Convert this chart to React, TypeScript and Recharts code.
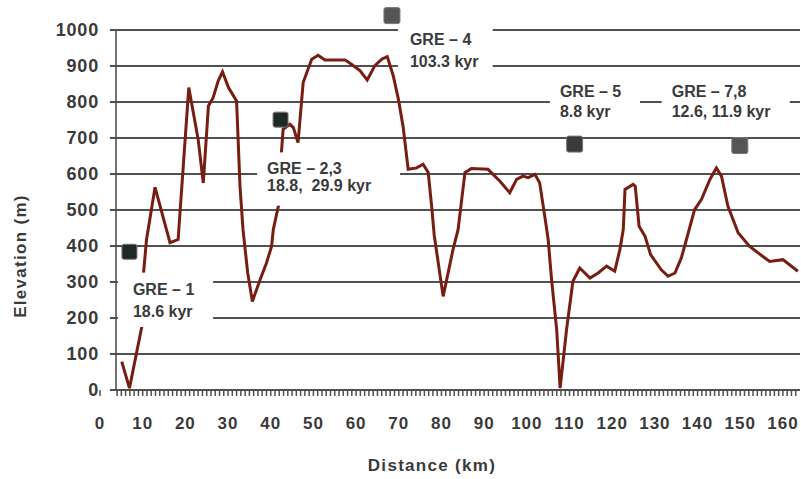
import React from 'react';
import { LineChart, Line, XAxis, YAxis, ReferenceLine, ReferenceArea, ReferenceDot } from 'recharts';

const distKm = [5.1, 6.9, 9.8, 10.2, 10.9, 12.9, 16.4, 18.3, 20.8, 23.0, 24.2, 25.4, 26.5, 27.7, 28.7, 30.1, 32.0, 32.8, 33.5, 34.6, 35.7, 37.5, 39.0, 40.2, 40.6, 41.8, 42.5, 42.9, 44.5, 45.3, 46.4, 47.6, 49.6, 51.1, 52.7, 57.4, 58.9, 60.9, 62.6, 64.4, 66.0, 67.3, 68.7, 69.9, 71.0, 72.2, 74.2, 75.7, 76.9, 77.7, 78.3, 80.4, 82.7, 83.9, 85.5, 87.0, 90.9, 93.7, 96.0, 97.6, 99.1, 100.3, 101.9, 103.0, 104.2, 105.0, 105.8, 107.0, 107.8, 109.3, 110.8, 112.4, 114.8, 116.7, 118.7, 120.6, 121.8, 122.6, 123.0, 124.9, 125.4, 126.3, 127.7, 129.0, 131.5, 133.1, 134.7, 136.2, 137.4, 139.3, 140.9, 142.9, 144.4, 145.6, 147.1, 149.5, 152.2, 155.3, 156.9, 160.0, 163.5];
const elevM = [79, 5, 176, 325, 418, 563, 409, 418, 840, 696, 575, 789, 812, 859, 884, 840, 803, 566, 446, 326, 246, 306, 353, 399, 446, 511, 659, 724, 738, 729, 687, 854, 919, 930, 917, 917, 905, 887, 861, 901, 919, 926, 873, 808, 733, 613, 617, 627, 604, 511, 430, 260, 390, 446, 604, 615, 613, 580, 548, 585, 594, 590, 599, 576, 483, 418, 306, 167, 5, 167, 302, 339, 311, 325, 344, 330, 390, 446, 557, 571, 566, 455, 427, 376, 334, 316, 325, 367, 418, 501, 529, 585, 617, 594, 511, 437, 399, 371, 357, 362, 330];

const yTicks = [0, 100, 200, 300, 400, 500, 600, 700, 800, 900, 1000];
const X_MAX = 164;
const xMinorStart = 4;

// label boxes: [x1, x2, yTop, yBottom] in data units, with two text lines
const labelNames = ['GRE – 1', 'GRE – 2,3', 'GRE – 4', 'GRE – 5', 'GRE – 7,8'];
const labelAges = ['18.6 kyr', '18.8,\u00a0 29.9 kyr', '103.3 kyr', '8.8 kyr', '12.6, 11.9 kyr'];
const labelX1 = [4.2, 36.8, 69.8, 105.4, 131.6];
const labelX2 = [26.5, 70.3, 92.0, 126.5, 161.6];
const labelYTop = [326, 660, 1014, 886, 886];
const labelYBottom = [175, 512, 875, 724, 724];
const labelPadX = [15, 10, 12, 10, 10];
const labelLine1 = [22, 22, 20, 26, 26];
const labelLine2 = [44, 39, 42, 46, 46];

// sample markers
const markerKm = [6.9, 42.3, 68.4, 111.2, 149.9];
const markerElev = [384, 751, 1040, 683, 679];
const markerColor = ['#1e2a28', '#1e2a28', '#555555', '#3a3a3a', '#555555'];
const markerSize = [15, 15, 16, 16, 16];

const data = distKm.map((d, i) => ({ d, e: elevM[i] }));
const xMinorTicks = Array.from({ length: X_MAX - xMinorStart }, (_, i) => i + xMinorStart);

const FONT = 'Liberation Sans, Arial, Helvetica, sans-serif';
const TEXT = '#3a3a3a';
const GRID = '#505050';

const XTick = (props: any) => {
  const { x, y, payload } = props;
  const v = payload.value;
  if (v % 10 !== 0) return <g />;
  return (
    <text x={x} y={y + 33} textAnchor="middle" fill={TEXT} fontSize={17} fontWeight="bold" fontFamily={FONT} letterSpacing={1}>
      {String(v)}
    </text>
  );
};

const XTitle = () => (
  <text x={432} y={471} textAnchor="middle" fill={TEXT} fontSize={17} fontWeight="bold" fontFamily={FONT} letterSpacing={1.3}>
    Distance (km)
  </text>
);

const YTitle = () => (
  <text x={20} y={256} transform="rotate(-90, 20, 256)" textAnchor="middle" dominantBaseline="central" fill={TEXT} fontSize={17} fontWeight="bold" fontFamily={FONT} letterSpacing={1.3}>
    Elevation (m)
  </text>
);

const makeBox = (i: number) => (props: any) => {
  const { x, y, width, height } = props;
  return (
    <g>
      <rect x={x} y={y} width={width} height={height} fill="#ffffff" stroke="none" />
      <text x={x + labelPadX[i]} y={y + labelLine1[i]} fill={TEXT} fontSize={16} fontWeight="bold" fontFamily={FONT}>
        {labelNames[i]}
      </text>
      <text x={x + labelPadX[i]} y={y + labelLine2[i]} fill={TEXT} fontSize={16} fontWeight="bold" fontFamily={FONT}>
        {labelAges[i]}
      </text>
    </g>
  );
};

const makeMarker = (i: number) => (props: any) => {
  const { cx, cy } = props;
  const s = markerSize[i];
  return <rect x={cx - s / 2} y={cy - s / 2} width={s} height={s} rx={2} fill={markerColor[i]} stroke="#777" strokeWidth={1} />;
};

export default function App() {
  return (
    <div style={{ position: 'absolute', left: 0, top: 0, background: '#fff' }}>
      <LineChart width={801} height={479} data={data} margin={{ top: 30, right: 1, bottom: 29, left: 0 }}>
        <XAxis
          dataKey="d"
          type="number"
          domain={[0, X_MAX]}
          ticks={[0, ...xMinorTicks]}
          interval={0}
          axisLine={false}
          tickLine={{ stroke: GRID, strokeWidth: 1.5 }}
          tickSize={6}
          tickMargin={0}
          height={60}
          tick={XTick}
          label={<XTitle />}
        />
        <YAxis
          type="number"
          domain={[0, 1000]}
          ticks={yTicks}
          interval={0}
          width={100}
          axisLine={false}
          tickLine={false}
          tickSize={0}
          tickMargin={1}
          tick={{ fill: TEXT, fontSize: 18, fontWeight: 'bold', fontFamily: FONT, letterSpacing: 0.8 }}
          label={<YTitle />}
        />
        {yTicks.map((v) => (
          <ReferenceLine
            key={'g' + v}
            segment={[{ x: 2.34, y: v }, { x: X_MAX, y: v }]}
            stroke={GRID}
            strokeWidth={v === 0 ? 2.2 : 1.8}
            ifOverflow="visible"
            zIndex={-10}
          />
        ))}
        <ReferenceLine segment={[{ x: 3.75, y: 0 }, { x: 3.75, y: 1000 }]} stroke={GRID} strokeWidth={1.6} ifOverflow="visible" zIndex={-10} />
        <Line dataKey="e" type="linear" stroke="#771d12" strokeWidth={3} dot={false} isAnimationActive={false} />
        {labelNames.map((_, i) => (
          <ReferenceArea
            key={'b' + i}
            x1={labelX1[i]}
            x2={labelX2[i]}
            y1={labelYBottom[i]}
            y2={labelYTop[i]}
            ifOverflow="visible"
            shape={makeBox(i)}
            zIndex={3000}
          />
        ))}
        {markerKm.map((k, i) => (
          <ReferenceDot key={'m' + i} x={k} y={markerElev[i]} ifOverflow="visible" shape={makeMarker(i)} zIndex={3100} />
        ))}
      </LineChart>
    </div>
  );
}
